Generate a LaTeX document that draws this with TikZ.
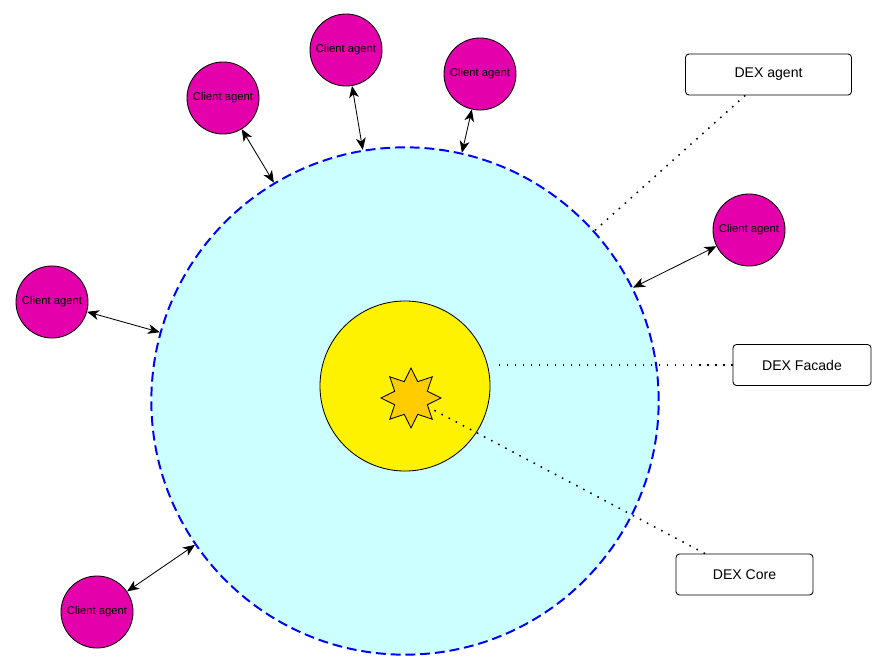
\documentclass[tikz,border=0pt]{standalone}
\usepackage{fontspec}
\setmainfont{Liberation Sans}
\usetikzlibrary{shapes.geometric,arrows.meta}

\definecolor{dexcyan}{RGB}{204,255,255}
\definecolor{dexblue}{RGB}{0,0,255}
\definecolor{clientpink}{RGB}{228,0,170}
\definecolor{coreorange}{RGB}{255,204,0}

\tikzset{
  client/.style={circle, draw, line width=0.6pt, fill=clientpink, minimum size=1.8cm, inner sep=0pt, font=\fontsize{8}{9}\selectfont},
  labelbox/.style={draw, line width=0.6pt, rounded corners=2.5pt, minimum height=1.025cm, font=\fontsize{10}{12}\selectfont},
  link/.style={{Stealth[length=8.5pt,width=7pt,inset=2.5pt]}-{Stealth[length=8.5pt,width=7pt,inset=2.5pt]}, line width=0.6pt},
  pointer/.style={line width=1.1pt, dash pattern=on 1.1pt off 4.6pt},
}

\begin{document}
\begin{tikzpicture}[x=0.025cm, y=-0.025cm]
        \useasboundingbox (0,0) rectangle (886,670);
        \node[circle, draw=dexblue, line width=1.4pt, dash pattern=on 7pt off 3.5pt, fill=dexcyan, minimum size=12.68cm] (dex) at (405,401) {};
        \node[circle, draw, line width=0.6pt, fill=yellow, minimum size=4.25cm] (facade) at (405,386) {};
        \node[star, star points=8, star point ratio=1.7, draw, line width=0.6pt, fill=coreorange, minimum size=1.5cm, inner sep=0pt] (core) at (411,398) {};
        \node[client] (c_1) at (223,98) {Client agent};
        \node[client] (c_2) at (346,50) {Client agent};
        \node[client] (c_3) at (480,74) {Client agent};
        \node[client] (c_4) at (749,230) {Client agent};
        \node[client] (c_5) at (52,302) {Client agent};
        \node[client] (c_6) at (97,612) {Client agent};
        \node[labelbox, minimum width=4.15cm] (agentlbl) at (768.5,74.5) {DEX agent};
        \node[labelbox, minimum width=3.45cm] (facadelbl) at (802,365) {DEX Facade};
        \node[labelbox, minimum width=3.425cm] (corelbl) at (744.5,574.5) {DEX Core};
        \foreach \i in {1,...,6}
          \draw[link] (c_\i) -- (dex);
        \draw[pointer] (agentlbl) -- (dex);
        \draw[pointer, shorten >=4pt] (facadelbl) -- (facade.east |- facadelbl);
        \draw[pointer] (corelbl) -- (core);
    \end{tikzpicture}
\end{document}
